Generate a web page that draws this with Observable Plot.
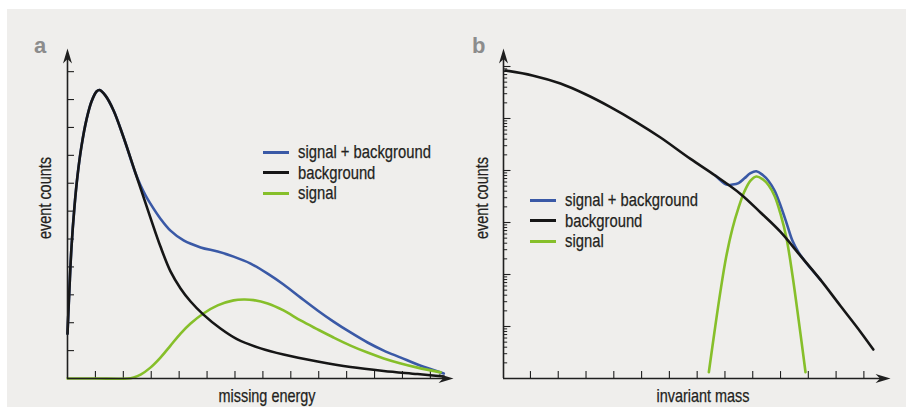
<!DOCTYPE html>
<html><head><meta charset="utf-8">
<script src="https://cdn.jsdelivr.net/npm/d3@7"></script>
<script src="https://cdn.jsdelivr.net/npm/@observablehq/plot@0.6"></script>
<style>
body{margin:0;background:#fff;width:913px;height:415px;overflow:hidden;position:relative;font-family:"Liberation Sans",Arial,sans-serif;color:#231f20;}
#bg{position:absolute;left:7px;top:9px;width:899px;height:398px;background:#efeeec;}
.panel{position:absolute;top:0;}
.panel svg{overflow:visible;}
.lbl{position:absolute;font-size:18.5px;white-space:nowrap;line-height:1;-webkit-text-stroke:0.25px #231f20;}
.rot{transform:translate(-50%,-50%) rotate(-90deg) scaleX(0.78);}
.hc{transform:translate(-50%,-50%) scaleX(0.78);}
.letter{position:absolute;font-family:"Liberation Sans","DejaVu Sans",sans-serif;font-weight:bold;font-size:22px;color:#8c8c8c;line-height:1;}
.legend{position:absolute;font-size:18.5px;}
.legend .row{display:flex;align-items:center;height:20.5px;white-space:nowrap;}
.legend .sw{display:inline-block;width:26px;height:3px;margin-right:9px;flex:none;}
.legend .tx{display:inline-block;transform:scaleX(0.8);transform-origin:0 50%;line-height:1;-webkit-text-stroke:0.25px #231f20;}
</style>
</head><body>
<div id="bg"></div>
<div id="left" class="panel" style="left:0px"></div>
<div id="right" class="panel" style="left:456px"></div>
<div class="letter" style="left:34px;top:35px">a</div>
<div class="letter" style="left:472px;top:35px">b</div>
<div class="lbl rot" style="left:45px;top:198px">event counts</div>
<div class="lbl rot" style="left:482px;top:198px">event counts</div>
<div class="lbl hc" style="left:267px;top:396px">missing energy</div>
<div class="lbl hc" style="left:703px;top:396px">invariant mass</div>
<div id="legA" class="legend" style="left:263px;top:142px"></div>
<div id="legB" class="legend" style="left:530px;top:190px"></div>
<script>
// ---- shared ----
const seriesNames = ["signal + background", "background", "signal"];
const seriesColors = ["#3a59a6", "#161616", "#86bf2a"];

// ---- panel a: missing energy (linear) ----
const aXTicks = [1,2,3,4,5,6,7,8,9,10,11,12,13];
const aYTicks = [1,2,3,4,5,6,7,8,9,10,11];
const aBackground = [
  [0.00,1.61],[0.07,3.23],[0.14,4.66],[0.25,6.16],[0.36,7.28],[0.50,8.32],[0.68,9.28],
  [0.86,9.93],[1.04,10.29],[1.15,10.34],[1.36,10.14],[1.65,9.61],[2.01,8.64],[2.44,7.35],
  [2.97,5.77],[3.33,4.73],[3.69,3.84],[4.05,3.23],[4.41,2.76],[4.87,2.29],[5.48,1.79],
  [6.09,1.40],[6.92,1.08],[7.74,0.86],[8.96,0.61],[10.14,0.41],[11.33,0.27],[12.54,0.16],[13.48,0.07]
];
const aSum = [
  [0.00,1.61],[0.07,3.23],[0.14,4.66],[0.25,6.16],[0.36,7.28],[0.50,8.32],[0.68,9.28],
  [0.86,9.93],[1.04,10.29],[1.15,10.34],[1.36,10.14],[1.65,9.61],[2.01,8.64],[2.44,7.35],
  [2.62,6.92],[2.80,6.56],[2.97,6.27],[3.33,5.73],[3.69,5.30],[4.16,4.95],[4.77,4.70],
  [5.38,4.55],[5.95,4.37],[6.56,4.12],[7.17,3.76],[7.74,3.37],[8.35,2.90],[8.96,2.44],
  [9.53,2.04],[10.14,1.65],[10.75,1.29],[11.33,1.00],[11.94,0.75],[12.54,0.50],[13.48,0.18]
];
const aSignal = [
  [0.00,0],[1.00,0],[2.15,0],[2.37,0.04],[2.62,0.14],[2.97,0.39],[3.33,0.75],[3.69,1.18],
  [4.05,1.61],[4.41,1.97],[4.87,2.33],[5.38,2.62],[5.95,2.80],[6.31,2.83],[6.67,2.81],
  [7.17,2.69],[7.74,2.44],[8.35,2.08],[8.96,1.76],[9.53,1.47],[10.14,1.18],[10.75,0.93],
  [11.33,0.72],[11.94,0.54],[12.54,0.39],[13.37,0.22]
];

// ---- panel b: invariant mass (log y) ----
const bXTicks = [0.97,1.97,2.97,3.97,4.97,5.97,6.97,7.97,8.97,9.97,10.97,11.97,12.97];
const bMajorTicks = [10, 100, 1e3, 1e4, 1e5, 1e6];
const bMinorMult = [2,3,4,5,6,7,8,9];
const bDecades = [1, 10, 100, 1e3, 1e4, 1e5];
const bBackground = [
  [0.07,837000],[1.04,674000],[2.05,471000],[2.95,293000],[3.85,166000],[4.75,87500],
  [5.65,43100],[6.73,16700],[7.63,7940],[8.53,3550],[9.25,1560],[9.97,659],[10.69,228],
  [11.41,78.7],[12.13,24.8],[12.85,7.87],[13.31,3.61]
];
const bSum = [
  [7.63,7940],[8.02,5360],[8.24,5370],[8.46,5720],[8.67,7060],
  [8.89,8870],[9.10,9650],[9.32,8280],[9.54,6300],[9.76,4050],[9.97,2120],[10.19,964],
  [10.40,445],[10.62,267],[10.87,174],[11.41,79]
];
const bSignal = [
  [7.39,1.32],[7.59,7.67],[7.81,48.4],[8.02,226],[8.24,767],[8.46,1930],[8.67,3940],
  [8.89,6380],[9.10,7670],[9.32,6840],[9.54,5190],[9.76,3200],[9.97,1460],[10.19,484],
  [10.40,96.6],[10.62,13.6],[10.87,1.32]
];

const axisColor = "#1f1f1f";
const arrowHead = {draw(ctx){ ctx.moveTo(0,0); ctx.lineTo(-15,-4.5); ctx.lineTo(-10.5,0); ctx.lineTo(-15,4.5); ctx.closePath(); }};

function curves(sum, sig, bg){
  return [
    Plot.line(sum, {x: d=>d[0], y: d=>d[1], stroke: seriesColors[0], strokeWidth: 2.6, curve: "catmull-rom"}),
    Plot.line(sig, {x: d=>d[0], y: d=>d[1], stroke: seriesColors[2], strokeWidth: 2.6, curve: "catmull-rom"}),
    Plot.line(bg,  {x: d=>d[0], y: d=>d[1], stroke: seriesColors[1], strokeWidth: 2.6, curve: "catmull-rom"})
  ];
}

const left = Plot.plot({
  width: 456, height: 415, marginLeft: 67, marginRight: 1, marginTop: 48, marginBottom: 37,
  x: {domain: [0, 13.9], axis: null},
  y: {domain: [0, 11.83], axis: null},
  style: {background: "transparent"},
  marks: [
    Plot.ruleX(aXTicks, {x: d=>d, y1: 0, y2: 0.25, stroke: axisColor, strokeWidth: 1.1}),
    Plot.ruleY(aYTicks, {y: d=>d, x1: 0, x2: 0.25, stroke: axisColor, strokeWidth: 1.1}),
    ...curves(aSum, aSignal, aBackground),
    Plot.ruleY([0], {x1: 0, x2: 13.5, stroke: axisColor, strokeWidth: 1.6}),
    Plot.ruleX([0], {y1: 0, y2: 11.5, stroke: axisColor, strokeWidth: 1.6}),
    Plot.dot([[13.83, 0]], {x: d=>d[0], y: d=>d[1], symbol: arrowHead, fill: axisColor, stroke: "none"}),
    Plot.dot([[0, 11.83]], {x: d=>d[0], y: d=>d[1], symbol: arrowHead, fill: axisColor, stroke: "none", rotate: -90})
  ]
});
document.getElementById("left").append(left);

const bMinorTicks = bDecades.flatMap(p => bMinorMult.map(m => m * p));
const right = Plot.plot({
  width: 457, height: 415, marginLeft: 47, marginRight: 21, marginTop: 48, marginBottom: 37,
  x: {domain: [0, 14], axis: null},
  y: {type: "log", domain: [1, Math.pow(10, 330/52)], axis: null},
  style: {background: "transparent"},
  marks: [
    Plot.ruleX(bXTicks, {x: d=>d, y1: 1, y2: 1.36, stroke: axisColor, strokeWidth: 1.1}),
    Plot.ruleY(bMajorTicks, {y: d=>d, x1: 0, x2: 0.27, stroke: axisColor, strokeWidth: 1.1}),
    Plot.ruleY(bMinorTicks, {y: d=>d, x1: 0, x2: 0.15, stroke: axisColor, strokeWidth: 1}),
    ...curves(bSum, bSignal, bBackground),
    Plot.ruleY([1], {x1: 0, x2: 13.6, stroke: axisColor, strokeWidth: 1.6}),
    Plot.ruleX([0], {y1: 1, y2: 1.5e6, stroke: axisColor, strokeWidth: 1.6}),
    Plot.dot([[13.93, 1]], {x: d=>d[0], y: d=>d[1], symbol: arrowHead, fill: axisColor, stroke: "none"}),
    Plot.dot([[0, Math.pow(10, 330/52)]], {x: d=>d[0], y: d=>d[1], symbol: arrowHead, fill: axisColor, stroke: "none", rotate: -90})
  ]
});
document.getElementById("right").append(right);

function legend(id){
  const el = document.getElementById(id);
  seriesNames.forEach((n, i) => {
    const row = document.createElement("div");
    row.className = "row";
    const sw = document.createElement("span");
    sw.className = "sw"; sw.style.background = seriesColors[i];
    const t = document.createElement("span"); t.className = "tx"; t.textContent = n;
    row.append(sw, t); el.append(row);
  });
}
legend("legA"); legend("legB");
</script>
</body></html>
